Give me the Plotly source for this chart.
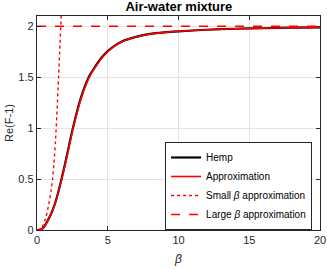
import plotly.graph_objects as go

# Hemp curve
beta_hemp = [0, 0.25, 0.5, 0.75, 1.0, 1.25, 1.5, 1.75, 2.0, 2.25, 2.5, 2.75, 3.0, 3.25,
             3.5, 3.75, 4.0, 4.5, 5.0, 5.5, 6.0, 7.0, 8.0, 9.0, 10, 12, 14, 16, 18, 20]
re_hemp = [0, 0.004, 0.03, 0.09, 0.16, 0.25, 0.37, 0.51, 0.66, 0.82, 0.98, 1.12, 1.25, 1.36,
           1.45, 1.525, 1.58, 1.68, 1.755, 1.81, 1.85, 1.895, 1.925, 1.94, 1.95, 1.965,
           1.975, 1.98, 1.985, 1.988]
# Approximation
beta_approx = beta_hemp
re_approx = [0, 0.004, 0.03, 0.088, 0.157, 0.245, 0.362, 0.5, 0.648, 0.808, 0.966, 1.107,
             1.237, 1.348, 1.439, 1.516, 1.572, 1.674, 1.75, 1.806, 1.847, 1.893, 1.923,
             1.939, 1.95, 1.965, 1.975, 1.98, 1.985, 1.988]
# Small beta approximation
beta_small = [0, 0.2, 0.4, 0.6, 0.8, 1.0, 1.1, 1.2, 1.3, 1.4, 1.5, 1.6, 1.7, 1.75]
re_small = [0, 0.01, 0.04, 0.11, 0.23, 0.39, 0.5, 0.66, 0.86, 1.12, 1.42, 1.74, 2.08, 2.25]
# Large beta approximation
beta_large = [0, 20]
re_large = [2, 2]

x_ticks = [0, 5, 10, 15, 20]
y_ticks = [0, 0.5, 1, 1.5, 2]
y_tick_labels = ["0", "0.5", "1", "1.5", "2"]

FONT = "Liberation Sans, Arial, sans-serif"

fig = go.Figure()
fig.add_trace(go.Scatter(x=beta_hemp, y=re_hemp, mode="lines", name="Hemp",
                         line=dict(color="black", width=2.2, shape="spline", smoothing=0.6)))
fig.add_trace(go.Scatter(x=beta_approx, y=re_approx, mode="lines", name="Approximation",
                         line=dict(color="#ff0000", width=1.6, shape="spline", smoothing=0.6)))
fig.add_trace(go.Scatter(x=beta_small, y=re_small, mode="lines",
                         name="Small <i>β</i> approximation",
                         line=dict(color="#ff0000", width=1.4, dash="dot", shape="spline", smoothing=0.6)))
fig.add_trace(go.Scatter(x=beta_large, y=re_large, mode="lines",
                         name="Large <i>β</i> approximation",
                         line=dict(color="#ff0000", width=1.6, dash="dash")))

axis_common = dict(showline=True, linecolor="#262626", linewidth=1.3, mirror="ticks",
                   ticks="inside", ticklen=4, tickcolor="#262626", tickwidth=1.3,
                   showgrid=True, gridcolor="#e3e3e3", gridwidth=1, zeroline=False,
                   automargin=False, ticklabeloverflow="allow",
                   tickfont=dict(family=FONT, size=11, color="#262626"))

fig.update_xaxes(range=[0, 20], tickvals=x_ticks,
                 title=dict(text="<i>β</i>", standoff=9,
                            font=dict(family=FONT, size=12, color="#262626")),
                 **axis_common)
fig.update_yaxes(range=[0, 2.1], tickvals=y_ticks, ticktext=y_tick_labels,
                 title=dict(text="Re(F-1)", standoff=2,
                            font=dict(family=FONT, size=11, color="#262626")),
                 **axis_common)

fig.update_layout(
    width=327, height=269,
    margin=dict(l=37, r=7, t=16, b=39),
    paper_bgcolor="white", plot_bgcolor="white",
    title=dict(text="<b>Air-water mixture</b>", x=0.547, xanchor="center", y=0.976, yanchor="middle",
               font=dict(family=FONT, size=13, color="black")),
    legend=dict(x=0.972, y=0.0, xanchor="right", yanchor="bottom",
                bgcolor="white", bordercolor="#262626", borderwidth=1,
                font=dict(family=FONT, size=10, color="black"),
                tracegroupgap=0, itemwidth=30),
    showlegend=True,
)

fig.write_html("out.html", config={"displayModeBar": False},
               post_script="document.body.style.margin='0';")
